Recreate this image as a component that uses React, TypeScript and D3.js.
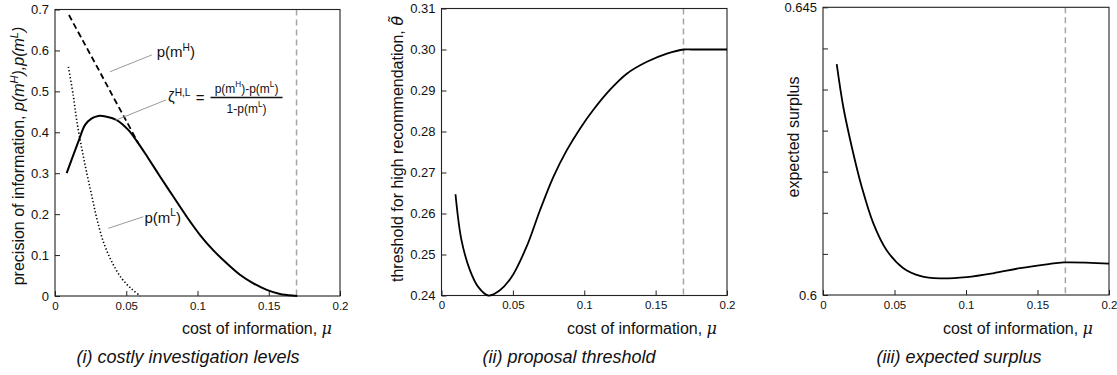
import React, { useRef, useEffect } from 'react';
import * as d3 from 'd3';

const FONT = '"Liberation Sans", Arial, Helvetica, sans-serif';

// shared x axis (cost of information)
const xTicks = [0, 0.05, 0.1, 0.15, 0.2];
const xTickLabels = ['0', '0.05', '0.1', '0.15', '0.2'];
const muBar = 0.1695;

// (i) costly investigation levels
const zetaMu = [0.0082, 0.0164, 0.0211, 0.0258, 0.0304, 0.0363, 0.0433, 0.0514, 0.0585, 0.065, 0.0737, 0.083, 0.0924, 0.1018, 0.111, 0.1205, 0.1298, 0.1392, 0.1486, 0.1579, 0.1684, 0.17];
const zetaVal = [0.3, 0.377, 0.418, 0.434, 0.44, 0.438, 0.43, 0.406, 0.373, 0.339, 0.292, 0.243, 0.194, 0.149, 0.112, 0.08, 0.052, 0.031, 0.015, 0.005, 0.0005, 0.0];
const pHMu = [0.0098, 0.02, 0.03, 0.04, 0.05, 0.0585];
const pHVal = [0.6865, 0.621, 0.557, 0.492, 0.428, 0.373];
const pLMu = [0.0094, 0.0128, 0.0152, 0.0187, 0.0222, 0.0258, 0.0293, 0.0339, 0.0398, 0.0468, 0.0538, 0.06];
const pLVal = [0.56, 0.49, 0.43, 0.362, 0.302, 0.245, 0.19, 0.133, 0.084, 0.043, 0.017, 0.0];
const yTicks1 = [0, 0.1, 0.2, 0.3, 0.4, 0.5, 0.6, 0.7];
const yTickLabels1 = ['0', '0.1', '0.2', '0.3', '0.4', '0.5', '0.6', '0.7'];

// (ii) proposal threshold
const thetaMu = [0.0098, 0.014, 0.0199, 0.0257, 0.0327, 0.0409, 0.0491, 0.0596, 0.069, 0.0783, 0.0877, 0.097, 0.1064, 0.1181, 0.1298, 0.1439, 0.1579, 0.17, 0.175, 0.2];
const thetaVal = [0.2647, 0.2535, 0.2462, 0.2421, 0.24, 0.2413, 0.2445, 0.2519, 0.2608, 0.2689, 0.2754, 0.2807, 0.2853, 0.2902, 0.2941, 0.297, 0.299, 0.3, 0.3, 0.3];
const yTicks2 = [0.24, 0.25, 0.26, 0.27, 0.28, 0.29, 0.3, 0.31];
const yTickLabels2 = ['0.24', '0.25', '0.26', '0.27', '0.28', '0.29', '0.30', '0.31'];

// (iii) expected surplus
const surplusMu = [0.0096, 0.0142, 0.0201, 0.0271, 0.0352, 0.0445, 0.0562, 0.0678, 0.0818, 0.1005, 0.1191, 0.1378, 0.1564, 0.1685, 0.2];
const surplusVal = [0.6361, 0.6294, 0.6232, 0.6169, 0.6112, 0.607, 0.6042, 0.603, 0.6026, 0.6028, 0.6034, 0.6042, 0.6048, 0.6051, 0.6049];
const yTicks3 = [0.6, 0.60643, 0.61286, 0.61929, 0.62571, 0.63214, 0.63857, 0.645];
const yTickLabels3 = ['0.6', '', '', '', '', '', '', '0.645'];

const panels = [
  { left: 55, right: 340, top: 9.5, bottom: 296, yDomain: [0, 0.7], yTicks: yTicks1, yLabels: yTickLabels1, xTitleEnd: 332, caption: '(i) costly investigation levels', capX: 188 },
  { left: 441.5, right: 727, top: 8.5, bottom: 295.5, yDomain: [0.24, 0.31], yTicks: yTicks2, yLabels: yTickLabels2, xTitleEnd: 717, caption: '(ii) proposal threshold', capX: 569 },
  { left: 823, right: 1109, top: 7.3, bottom: 295, yDomain: [0.6, 0.645], yTicks: yTicks3, yLabels: yTickLabels3, xTitleEnd: 1093, caption: '(iii) expected surplus', capX: 959 },
];

const App = () => {
  const svgRef = useRef<SVGSVGElement>(null);

  useEffect(() => {
    const svg = d3.select(svgRef.current);
    svg.selectAll('*').remove();

    const frames = panels.map(p => {
      const x = d3.scaleLinear().domain([0, 0.2]).range([p.left, p.right]);
      const y = d3.scaleLinear().domain(p.yDomain).range([p.bottom, p.top]);
      const g = svg.append('g');

      g.append('line')
        .attr('x1', x(muBar)).attr('x2', x(muBar))
        .attr('y1', p.top).attr('y2', p.bottom)
        .attr('stroke', '#a5a5a5').attr('stroke-width', 1.5)
        .attr('stroke-dasharray', '6 4');

      const ya = g.append('g')
        .attr('transform', `translate(${p.left},0)`)
        .call(d3.axisLeft(y).tickValues(p.yTicks)
          .tickFormat((d, i) => p.yLabels[i])
          .tickSizeInner(-5).tickSizeOuter(0).tickPadding(6));
      ya.select('.domain').remove();
      ya.selectAll('text').attr('font-size', 13).attr('font-family', FONT).attr('fill', '#111');
      ya.selectAll('line').attr('stroke', '#222');

      const xa = g.append('g')
        .attr('transform', `translate(0,${p.bottom})`)
        .call(d3.axisBottom(x).tickValues(xTicks)
          .tickFormat((d, i) => xTickLabels[i])
          .tickSizeInner(-5).tickSizeOuter(0).tickPadding(5.5));
      xa.select('.domain').remove();
      xa.selectAll('text').attr('font-size', 11.5).attr('font-family', FONT).attr('fill', '#111');
      xa.selectAll('line').attr('stroke', '#222');

      g.append('rect')
        .attr('x', p.left).attr('y', p.top)
        .attr('width', p.right - p.left).attr('height', p.bottom - p.top)
        .attr('fill', 'none').attr('stroke', '#222').attr('stroke-width', 1.1);

      const xt = g.append('text')
        .attr('x', p.xTitleEnd).attr('y', 333.5)
        .attr('text-anchor', 'end')
        .attr('font-family', FONT).attr('font-size', 16).attr('fill', '#111');
      xt.append('tspan').text('cost of information, ');
      xt.append('tspan').attr('font-style', 'italic').attr('font-family', '"DejaVu Serif", serif').text('μ');

      g.append('text')
        .attr('x', p.capX).attr('y', 363)
        .attr('text-anchor', 'middle')
        .attr('font-family', FONT).attr('font-size', 18).attr('font-style', 'italic').attr('fill', '#111')
        .text(p.caption);

      return { g, x, y };
    });

    const curve = (f, mu: number[], val: number[]) =>
      d3.line<number>().x(i => f.x(mu[i])).y(i => f.y(val[i]))
        .curve(d3.curveCatmullRom.alpha(0.5))(d3.range(mu.length));

    // panel (i)
    const f1 = frames[0];
    f1.g.append('path').attr('d', curve(f1, pLMu, pLVal))
      .attr('fill', 'none').attr('stroke', '#000').attr('stroke-width', 1.6).attr('stroke-dasharray', '1.3 2.2');
    f1.g.append('path').attr('d', curve(f1, pHMu, pHVal))
      .attr('fill', 'none').attr('stroke', '#000').attr('stroke-width', 1.8).attr('stroke-dasharray', '6 3.5');
    f1.g.append('path').attr('d', curve(f1, zetaMu, zetaVal))
      .attr('fill', 'none').attr('stroke', '#000').attr('stroke-width', 2);

    const leader = (f, a: number[], b: number[]) =>
      f.g.append('line')
        .attr('x1', f.x(a[0])).attr('y1', f.y(a[1]))
        .attr('x2', f.x(b[0])).attr('y2', f.y(b[1]))
        .attr('stroke', '#9a9a9a').attr('stroke-width', 1);

    leader(f1, [0.0386, 0.548], [0.068, 0.589]);
    leader(f1, [0.0421, 0.4288], [0.0779, 0.479]);
    leader(f1, [0.0374, 0.1654], [0.062, 0.1937]);

    const supText = (g, x: number, y: number, size: number, parts: [string, boolean][], anchor = 'start') => {
      const t = g.append('text').attr('x', x).attr('y', y)
        .attr('font-family', FONT).attr('font-size', size).attr('fill', '#111')
        .attr('text-anchor', anchor);
      let up = false;
      parts.forEach(([s, sup]) => {
        const ts = t.append('tspan').text(s);
        if (sup && !up) { ts.attr('dy', -size * 0.42).attr('font-size', size * 0.68); up = true; }
        else if (sup) { ts.attr('font-size', size * 0.68); }
        else if (up) { ts.attr('dy', size * 0.42); up = false; }
      });
      return t;
    };

    supText(f1.g, f1.x(0.0714), 57, 15, [['p(m', false], ['H', true], [')', false]]);
    supText(f1.g, f1.x(0.0628), 222.5, 15, [['p(m', false], ['L', true], [')', false]]);
    supText(f1.g, f1.x(0.0793), 102, 15, [['ζ', false], ['H,L', true]]);
    supText(f1.g, f1.x(0.0988), 102.5, 15, [['=', false]]);
    const fc = f1.x(0.1344);
    supText(f1.g, fc, 92.5, 12, [['p(m', false], ['H', true], [')-p(m', false], ['L', true], [')', false]], 'middle');
    f1.g.append('line').attr('x1', fc - 36).attr('x2', fc + 36).attr('y1', 97.5).attr('y2', 97.5)
      .attr('stroke', '#111').attr('stroke-width', 1.3);
    supText(f1.g, fc, 112.5, 12, [['1-p(m', false], ['L', true], [')', false]], 'middle');

    // panel (ii)
    const f2 = frames[1];
    f2.g.append('path').attr('d', curve(f2, thetaMu, thetaVal))
      .attr('fill', 'none').attr('stroke', '#000').attr('stroke-width', 1.8);

    // panel (iii)
    const f3 = frames[2];
    f3.g.append('path').attr('d', curve(f3, surplusMu, surplusVal))
      .attr('fill', 'none').attr('stroke', '#000').attr('stroke-width', 1.8);

    // y titles
    const yt1 = svg.append('text').attr('transform', 'translate(24,156) rotate(-90)')
      .attr('text-anchor', 'middle').attr('font-family', FONT).attr('font-size', 16).attr('fill', '#111');
    yt1.append('tspan').text('precision of information, ');
    yt1.append('tspan').attr('font-style', 'italic').text('p(m');
    yt1.append('tspan').attr('font-style', 'italic').attr('font-size', 11).attr('dy', -6).text('H');
    yt1.append('tspan').attr('font-style', 'italic').attr('dy', 6).text('),p(m');
    yt1.append('tspan').attr('font-style', 'italic').attr('font-size', 11).attr('dy', -6).text('L');
    yt1.append('tspan').attr('font-style', 'italic').attr('dy', 6).text(')');

    const yt2 = svg.append('text').attr('transform', 'translate(403,149) rotate(-90)')
      .attr('text-anchor', 'middle').attr('font-family', FONT).attr('font-size', 16).attr('fill', '#111');
    yt2.append('tspan').text('threshold for high recommendation, ');
    yt2.append('tspan').attr('font-style', 'italic').attr('font-family', '"DejaVu Sans", sans-serif').text('θ\u0303');

    svg.append('text').attr('transform', 'translate(799,137) rotate(-90)')
      .attr('text-anchor', 'middle').attr('font-family', FONT).attr('font-size', 16).attr('fill', '#111')
      .text('expected surplus');
  }, []);

  return (
    <svg ref={svgRef} width={1117} height={375}
      style={{ position: 'absolute', left: 0, top: 0, background: '#fff' }} />
  );
};

export default App;
